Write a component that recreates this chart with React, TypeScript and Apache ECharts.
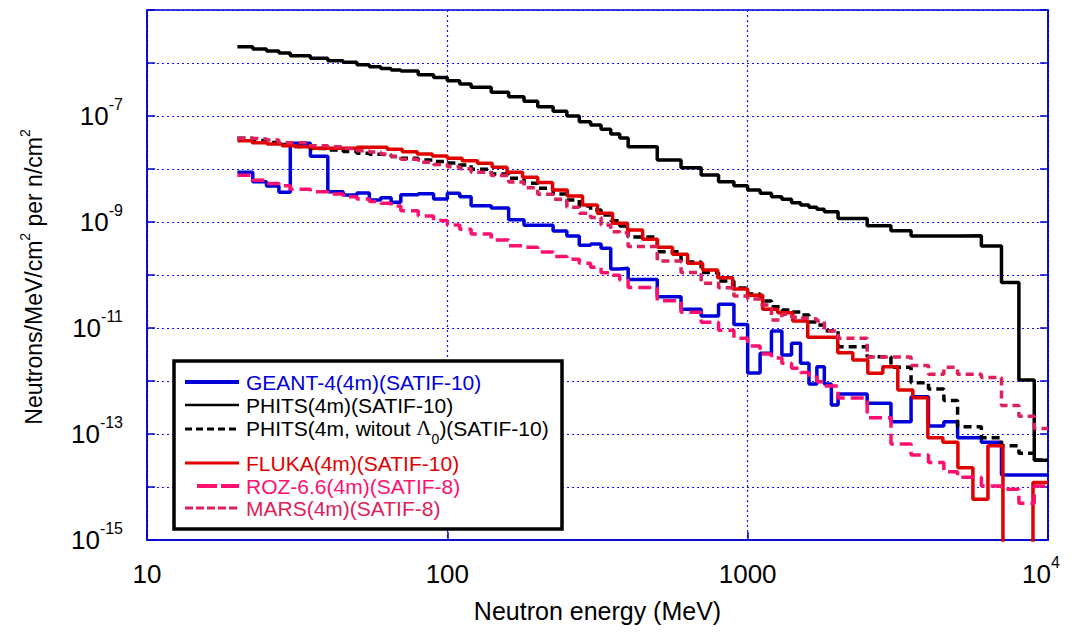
import React, { useEffect, useRef } from 'react';
import * as echarts from 'echarts';

// Bin edges (MeV)
const PHITS_E = [20, 22.5, 25, 27.5, 30, 35, 40, 45, 50, 55, 60, 65, 70, 80, 90, 100, 110, 120, 140, 160, 180, 200, 225, 250, 275, 300, 325, 350, 375, 400, 500, 600, 700, 800, 900, 1000, 1100, 1200, 1300, 1400, 1500, 1600, 1700, 1800, 2000, 2500, 3000, 3500, 4000, 4500, 5000, 6000, 7000, 8000, 9000, 10000];
const GEANT_E = [20, 22.5, 25, 27.5, 30, 35, 40, 45, 50, 55, 60, 65, 70, 80, 90, 100, 110, 120, 140, 160, 180, 200, 225, 250, 275, 300, 325, 350, 375, 400, 450, 500, 600, 700, 800, 900, 1000, 1100, 1200, 1300, 1400, 1500, 1600, 1700, 1800, 1900, 2000, 2500, 3000, 3500, 4000, 4500, 5000, 6000, 7000, 10000];
const FLUKA_E = [20, 22.4, 25.1, 28.2, 31.6, 35.5, 39.8, 44.7, 50.1, 56.2, 63.1, 70.8, 79.4, 89.1, 100, 112, 126, 141, 158, 178, 200, 224, 251, 282, 316, 355, 398, 447, 501, 562, 631, 708, 794, 891, 1000, 1122, 1259, 1413, 1585, 1778, 1995, 2239, 2512, 2818, 3162, 3548, 3981, 4467, 5012, 5623, 6310, 7079, 7943, 8913, 10000];

// Series values (neutrons/MeV/cm^2 per n/cm^2), one per bin
const GEANT = [8.67e-9, 5.75e-9, 4.78e-9, 3.63e-9, 3.05e-8, 1.74e-8, 3.73e-9, 3.23e-9, 3.52e-9, 2.6e-9, 2.87e-9, 2.35e-9, 3.27e-9, 3.42e-9, 2.72e-9, 3.48e-9, 3.0e-9, 2.03e-9, 1.84e-9, 1.1e-9, 8.67e-10, 8.67e-10, 6.76e-10, 5.44e-10, 3.63e-10, 3.85e-10, 3.19e-10, 1.3e-10, 1.34e-10, 8.2e-11, 8.2e-11, 3.9e-11, 2.25e-11, 1.68e-11, 2.8e-11, 1.17e-11, 1.42e-12, 3.33e-12, 8.8e-12, 3.1e-12, 5.14e-12, 2.16e-12, 8.8e-13, 1.86e-12, 8.8e-13, 3.52e-13, 5.69e-13, 3.79e-13, 1.71e-13, 5.06e-13, 1.42e-13, 1.71e-13, 8.5e-14, 6.97e-14, 1.68e-14];
const PHITS = [2.03e-6, 1.84e-6, 1.68e-6, 1.55e-6, 1.37e-6, 1.23e-6, 1.1e-6, 1.03e-6, 9.3e-7, 8.5e-7, 7.9e-7, 7.4e-7, 7.1e-7, 6.0e-7, 5.3e-7, 4.6e-7, 4.0e-7, 3.48e-7, 2.8e-7, 2.31e-7, 1.89e-7, 1.5e-7, 1.23e-7, 1.0e-7, 7.8e-8, 6.8e-8, 5.6e-8, 4.57e-8, 3.84e-8, 2.64e-8, 1.48e-8, 1.06e-8, 7.7e-9, 5.76e-9, 4.84e-9, 4.0e-9, 3.48e-9, 3.0e-9, 2.68e-9, 2.31e-9, 2.09e-9, 1.89e-9, 1.74e-9, 1.56e-9, 1.17e-9, 8.5e-10, 6.85e-10, 5.44e-10, 5.44e-10, 5.44e-10, 5.5e-10, 3.52e-10, 7.2e-11, 1.05e-12, 3.2e-14];
const PHITS_NO_L0 = [3.79e-8, 3.45e-8, 3.16e-8, 2.9e-8, 2.66e-8, 2.44e-8, 2.28e-8, 2.14e-8, 1.98e-8, 1.89e-8, 1.84e-8, 1.72e-8, 1.59e-8, 1.48e-8, 1.39e-8, 1.3e-8, 1.19e-8, 9.87e-9, 8.05e-9, 6.68e-9, 5.37e-9, 4.32e-9, 3.38e-9, 2.6e-9, 2.0e-9, 1.68e-9, 1.36e-9, 1.06e-9, 8.41e-10, 5.21e-10, 2.75e-10, 1.76e-10, 1.12e-10, 7.71e-11, 5.69e-11, 4.38e-11, 3.23e-11, 2.52e-11, 2.19e-11, 2.0e-11, 1.76e-11, 1.3e-11, 1.14e-11, 8.89e-12, 4.44e-12, 2.87e-12, 1.81e-12, 9.29e-13, 7.06e-13, 4.29e-13, 1.37e-13, 8.5e-14, 6.01e-14, 4.32e-14, 3.23e-14];
const FLUKA = [3.42e-8, 3.13e-8, 2.96e-8, 2.75e-8, 2.64e-8, 2.46e-8, 2.46e-8, 2.46e-8, 2.57e-8, 2.57e-8, 2.35e-8, 2.12e-8, 1.92e-8, 1.76e-8, 1.59e-8, 1.43e-8, 1.28e-8, 1.08e-8, 8.67e-9, 6.97e-9, 5.56e-9, 4.02e-9, 3.1e-9, 2.09e-9, 1.46e-9, 9.45e-10, 7.06e-10, 4.72e-10, 3.33e-10, 2.46e-10, 1.66e-10, 1.24e-10, 8.89e-11, 5.44e-11, 4.14e-11, 2.25e-11, 1.94e-11, 1.36e-11, 6.68e-12, 6.68e-12, 3.42e-12, 2.49e-12, 1.4e-12, 1.86e-12, 6.76e-13, 4.84e-13, 8.5e-14, 6.97e-14, 2.31e-14, 5.86e-15, 6.01e-14, 1e-17, 1e-17, 1.21e-14];
const ROZ = [7.6e-9, 6.12e-9, 5.32e-9, 4.82e-9, 4.16e-9, 3.73e-9, 3.38e-9, 3.0e-9, 2.72e-9, 2.44e-9, 2.25e-9, 2.0e-9, 1.63e-9, 1.3e-9, 1.07e-9, 8.77e-10, 7.28e-10, 5.94e-10, 4.57e-10, 3.57e-10, 3.33e-10, 2.72e-10, 2.23e-10, 1.98e-10, 1.66e-10, 1.4e-10, 1.1e-10, 9.87e-11, 8.05e-11, 5.81e-11, 3.27e-11, 1.98e-11, 1.28e-11, 9.06e-12, 6.39e-12, 4.57e-12, 3.23e-12, 2.72e-12, 2.16e-12, 1.74e-12, 1.45e-12, 1.19e-12, 9.7e-13, 8.05e-13, 4.78e-13, 2.03e-13, 6.48e-14, 4.02e-14, 2.9e-14, 1.95e-14, 1.52e-14, 1.04e-14, 9.06e-15, 4.92e-15, 1.04e-14];
const MARS = [3.79e-8, 3.68e-8, 3.53e-8, 3.13e-8, 3.13e-8, 2.75e-8, 2.64e-8, 2.44e-8, 2.21e-8, 2.09e-8, 1.92e-8, 1.72e-8, 1.52e-8, 1.34e-8, 1.22e-8, 1.1e-8, 1.01e-8, 8.7e-9, 7.54e-9, 5.69e-9, 4.44e-9, 3.33e-9, 2.68e-9, 1.89e-9, 1.46e-9, 1.21e-9, 8.77e-10, 6.56e-10, 6.28e-10, 3.45e-10, 1.84e-10, 1.12e-10, 6.97e-11, 5.75e-11, 4.02e-11, 3.52e-11, 2.72e-11, 1.42e-11, 1.81e-11, 1.59e-11, 1.52e-11, 1.48e-11, 1.36e-11, 8.78e-12, 6.39e-12, 2.84e-12, 2.84e-12, 1.96e-12, 1.34e-12, 1.81e-12, 1.34e-12, 1.16e-12, 3.45e-13, 2.16e-13, 1.27e-13];

const X_MIN = 10;
const X_MAX = 10000;
const Y_MIN = 1e-15;
const Y_MAX = 1e-5;
const Y_LABEL_EXPONENTS = [-15, -13, -11, -9, -7];

const C_BLUE = '#0000d8';
const C_RED = '#e00000';
const C_ROZ = '#ff1070';
const C_MARS = '#e0205a';
const C_FRAME = '#0000cc';
const C_GRID = '#1010ff';

const SANS = '"Liberation Sans", Arial, Helvetica, sans-serif';

function histo(edges: number[], vals: number[]) {
  const pts: number[][] = [];
  for (let i = 0; i < vals.length; i++) {
    pts.push([edges[i], vals[i]]);
    pts.push([edges[i + 1], vals[i]]);
  }
  return pts;
}

const tickRich = {
  b: { fontSize: 26, lineHeight: 26, fontFamily: SANS, color: '#000', verticalAlign: 'middle' },
  s: { fontSize: 16, lineHeight: 16, fontFamily: SANS, color: '#000', verticalAlign: 'middle', padding: [0, 0, 24, 0] },
};

export default function App() {
  const ref = useRef<HTMLDivElement>(null);
  useEffect(() => {
    const chart = echarts.init(ref.current!, undefined, { renderer: 'svg' });
    const legendTop = 361;
    const legendLeft = 174;
    const lx1 = 185;
    const lx2 = 239;
    const tx = 246;
    const rows = [
      { y: 382, color: C_BLUE, width: 4, dash: null as any, label: 'GEANT-4(4m)(SATIF-10)', x1: lx1 },
      { y: 405, color: '#000', width: 2.5, dash: null as any, label: 'PHITS(4m)(SATIF-10)', x1: lx1 },
      { y: 429, color: '#000', width: 3, dash: [7, 4], label: '', x1: lx1 },
      { y: 463, color: C_RED, width: 3, dash: null as any, label: 'FLUKA(4m)(SATIF-10)', x1: lx1 },
      { y: 486, color: C_ROZ, width: 4, dash: [20, 4], label: 'ROZ-6.6(4m)(SATIF-8)', x1: 197 },
      { y: 508, color: C_MARS, width: 3, dash: [8, 3], label: 'MARS(4m)(SATIF-8)', x1: lx1 },
    ];
    const graphics: any[] = [
      {
        type: 'rect', z: 100,
        shape: { x: legendLeft, y: legendTop, width: 388, height: 168 },
        style: { fill: '#fff', stroke: '#000', lineWidth: 3.5 },
      },
    ];
    rows.forEach((r) => {
      graphics.push({
        type: 'line', z: 101,
        shape: { x1: r.x1, y1: r.y, x2: lx2, y2: r.y },
        style: { stroke: r.color, lineWidth: r.width, lineDash: r.dash || undefined },
      });
      if (r.label) {
        graphics.push({
          type: 'text', z: 101, x: tx, y: r.y,
          style: { text: r.label, fill: r.color, fontSize: 21, fontFamily: SANS, verticalAlign: 'middle', align: 'left' },
        });
      }
    });
    graphics.push({
      type: 'text', z: 101, x: tx, y: 429,
      style: {
        text: '{a|PHITS(4m, witout }{l|Λ}{s|0}{a|)(SATIF-10)}',
        verticalAlign: 'middle', align: 'left',
        rich: {
          a: { fontSize: 21, fontFamily: SANS, fill: '#000', lineHeight: 23, verticalAlign: 'top' },
          l: { fontSize: 21, fontFamily: '"Liberation Serif", "Times New Roman", serif', fill: '#000', lineHeight: 23, verticalAlign: 'top' },
          s: { fontSize: 14, fontFamily: SANS, fill: '#000', lineHeight: 14, verticalAlign: 'top', padding: [14, 0, 0, 0] },
        },
      },
    });
    graphics.push({
      type: 'text', x: 34, y: 277, rotation: Math.PI / 2,
      style: {
        text: '{a|Neutrons/MeV/cm}{s|2}{a| per n/cm}{s|2}',
        align: 'center', verticalAlign: 'middle',
        rich: {
          a: { fontSize: 23, fontFamily: SANS, fill: '#000', lineHeight: 23, verticalAlign: 'middle' },
          s: { fontSize: 14, fontFamily: SANS, fill: '#000', lineHeight: 14, verticalAlign: 'middle', padding: [0, 0, 19, 0] },
        },
      },
    });

    const mk = (name: string, edges: number[], vals: number[], color: string, width: number, type: any) => ({
      name,
      type: 'line',
      data: histo(edges, vals),
      showSymbol: false,
      symbol: 'none',
      clip: true,
      silent: true,
      lineStyle: { color, width, type },
    });

    chart.setOption({
      animation: false,
      backgroundColor: '#fff',
      grid: {
        left: 147, right: 30, top: 10, bottom: 95, show: true,
        borderColor: C_FRAME, borderWidth: 1.5,
        containLabel: false, outerBoundsMode: 'none',
      },
      xAxis: {
        type: 'log', logBase: 10, min: X_MIN, max: X_MAX, splitNumber: 3,
        axisLine: { show: true, lineStyle: { color: C_FRAME, width: 1.5 } },
        axisTick: { show: true, inside: true, length: 8, lineStyle: { color: C_FRAME, width: 1.5 } },
        splitLine: { show: true, lineStyle: { color: C_GRID, type: [2, 3], width: 1.2 } },
        axisLabel: {
          margin: 14,
          formatter: (v: number) => {
            const e = Math.round(Math.log10(v));
            if (e >= 4) return `{b|10}{s|${e}}`;
            return `{b|${Math.round(v)}}`;
          },
          rich: {
            b: { ...tickRich.b, lineHeight: 40 },
            s: { ...tickRich.s, padding: [0, 14, 24, 0] },
          },
        },
        name: 'Neutron energy (MeV)',
        nameLocation: 'middle',
        nameGap: 55,
        nameTextStyle: { fontSize: 25, fontFamily: SANS, color: '#000' },
      },
      yAxis: [
        {
          type: 'log', logBase: 10, min: Y_MIN, max: Y_MAX, splitNumber: 10,
          axisLine: { show: true, lineStyle: { color: C_FRAME, width: 1.5 } },
          axisTick: { show: true, inside: true, length: 8, lineStyle: { color: C_FRAME, width: 1.5 } },
          splitLine: { show: true, lineStyle: { color: C_GRID, type: [2, 3], width: 1.2 } },
          axisLabel: {
            margin: 24,
            formatter: (v: number) => {
              const e = Math.round(Math.log10(v));
              if (Y_LABEL_EXPONENTS.indexOf(e) < 0) return '';
              return `{b|10}{s|${e}}`;
            },
            rich: tickRich,
          },
        },
        {
          type: 'log', logBase: 10, min: Y_MIN, max: Y_MAX, splitNumber: 10, position: 'right',
          axisLine: { show: true, lineStyle: { color: C_FRAME, width: 1.5 } },
          axisTick: { show: true, inside: true, length: 8, lineStyle: { color: C_FRAME, width: 1.5 } },
          splitLine: { show: false },
          axisLabel: { show: false },
        },
      ],
      series: [
        mk('PHITS(4m)(SATIF-10)', PHITS_E, PHITS, '#000', 3.5, 'solid'),
        mk('GEANT-4(4m)(SATIF-10)', GEANT_E, GEANT, C_BLUE, 3.5, 'solid'),
        mk('PHITS(4m, witout Λ0)(SATIF-10)', PHITS_E, PHITS_NO_L0, '#000', 3.5, [8, 5]),
        mk('FLUKA(4m)(SATIF-10)', FLUKA_E, FLUKA, C_RED, 3.5, 'solid'),
        mk('ROZ-6.6(4m)(SATIF-8)', PHITS_E, ROZ, C_ROZ, 3.5, [13, 6]),
        mk('MARS(4m)(SATIF-8)', PHITS_E, MARS, C_MARS, 3.5, [8, 5]),
      ],
      graphic: graphics,
    });
    return () => chart.dispose();
  }, []);
  return <div ref={ref} style={{ position: 'fixed', left: 0, top: 0, width: 1078, height: 635 }} />;
}
